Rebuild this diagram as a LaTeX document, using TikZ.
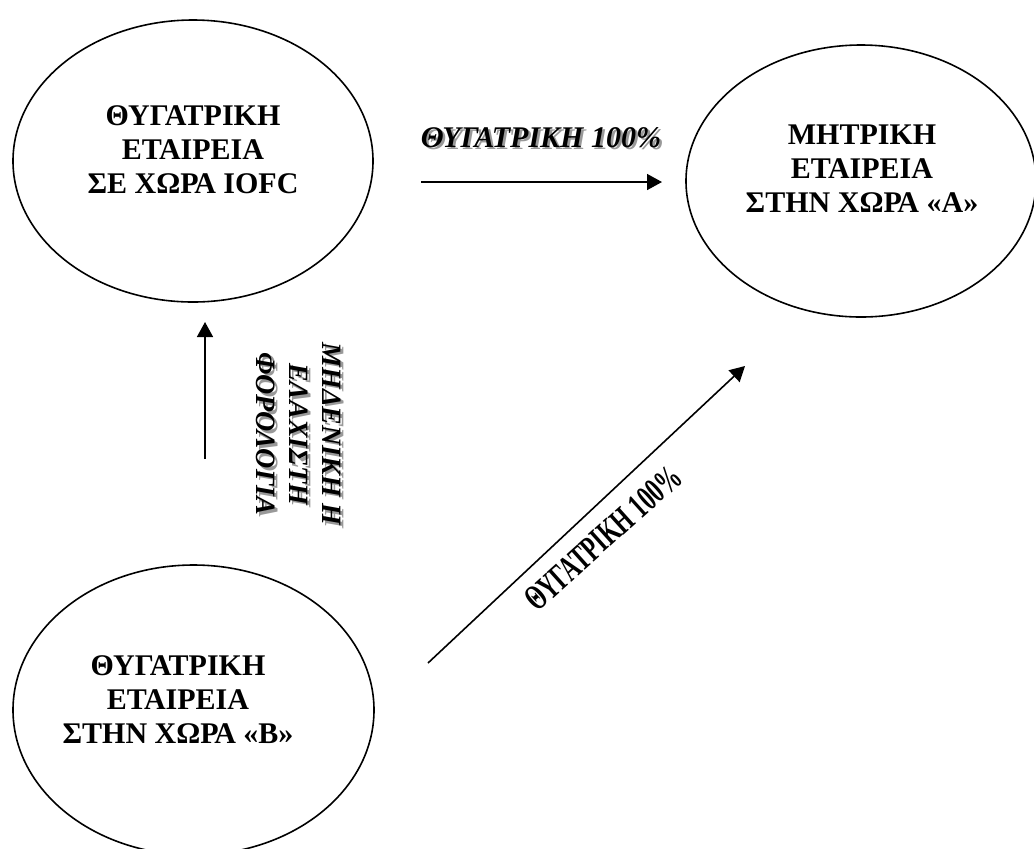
\documentclass[tikz,border=0pt]{standalone}
\usepackage{fontspec}
\setmainfont{Liberation Serif}
\usetikzlibrary{arrows.meta,shapes.geometric}
\begin{document}
\begin{tikzpicture}[x=0.5pt,y=-0.5pt,
  ell/.style={draw, line width=0.8pt, ellipse, inner sep=0pt},
  boxtext/.style={font=\fontsize{15}{17}\selectfont\bfseries, align=center, inner sep=0pt},
  lbl/.style={font=\fontsize{14}{16.5}\selectfont\bfseries\itshape, align=center, inner sep=0pt},
  shadowlbl/.style={lbl, text=black!40},
  conn/.style={line width=0.8pt, -{Triangle[length=7.5pt,width=8pt]}}
]
\useasboundingbox (0,0) rectangle (1034,848);
% ellipses
\node[ell, minimum width=180pt, minimum height=141pt] (e1) at (193,161) {};
\node[ell, minimum width=175pt, minimum height=136pt] (e2) at (861,181) {};
\node[ell, minimum width=180.5pt, minimum height=145pt] (e3) at (193.5,710) {};
% texts
\node[boxtext] (t1) at (193,150) {ΘΥΓΑΤΡΙΚΗ\\ΕΤΑΙΡΕΙΑ\\ΣΕ ΧΩΡΑ IOFC};
\node[boxtext] (t2) at (862,169) {ΜΗΤΡΙΚΗ\\ΕΤΑΙΡΕΙΑ\\ΣΤΗΝ ΧΩΡΑ «Α»};
\node[boxtext] (t3) at (178,700) {ΘΥΓΑΤΡΙΚΗ\\ΕΤΑΙΡΕΙΑ\\ΣΤΗΝ ΧΩΡΑ «Β»};
% connector end points
\coordinate (h0) at (421,182);
\coordinate (h1) at (662,182);
\coordinate (v0) at (205,459);
\coordinate (v1) at (205,322);
\coordinate (d0) at (428,663);
\coordinate (d1) at (745,366);
\draw[conn] (h0) -- (h1);
\draw[conn] (v0) -- (v1);
\draw[conn] (d0) -- (d1);
% labels
\node[shadowlbl, font=\fontsize{15}{17}\selectfont\bfseries\itshape, anchor=base] (l1s) at (543.5,149.5) {ΘΥΓΑΤΡΙΚΗ 100\%};
\node[lbl, font=\fontsize{15}{17}\selectfont\bfseries\itshape, anchor=base] (l1) at (541,147) {ΘΥΓΑΤΡΙΚΗ 100\%};
\node[shadowlbl, rotate=-90] (l2s) at (301.5,436.5) {ΜΗΔΕΝΙΚΗ Η\\ΕΛΑΧΙΣΤΗ\\ΦΟΡΟΛΟΓΙΑ};
\node[lbl, rotate=-90] (l2) at (299,434) {ΜΗΔΕΝΙΚΗ Η\\ΕΛΑΧΙΣΤΗ\\ΦΟΡΟΛΟΓΙΑ};
\node[font=\fontsize{18}{20}\selectfont\bfseries, inner sep=0pt, rotate=42] (l3) at (603,538) {\scalebox{0.64}[1]{ΘΥΓΑΤΡΙΚΗ 100\%}};
\end{tikzpicture}
\end{document}
